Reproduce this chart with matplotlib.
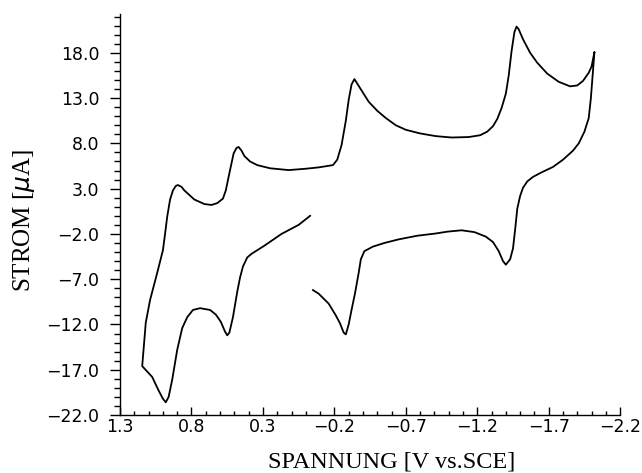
import matplotlib
matplotlib.use("Agg")
import matplotlib.pyplot as plt
from matplotlib.ticker import MultipleLocator, FuncFormatter

# cyclic voltammogram traced in sweep order (potential in V, current in uA)
potential = [
    -0.03, 0.05, 0.17, 0.29, 0.38, 0.41, 0.44, 0.46, 0.48, 0.51, 0.535, 0.55,
    0.565, 0.595, 0.63, 0.67, 0.74, 0.79, 0.83, 0.865, 0.90, 0.935, 0.96, 0.98,
    1.0, 1.03, 1.075, 1.145,
    1.13, 1.12, 1.09, 1.04, 1.0, 0.985, 0.97, 0.95, 0.93, 0.91, 0.895, 0.87,
    0.85, 0.78, 0.71, 0.66, 0.62, 0.58, 0.56, 0.535, 0.505, 0.485, 0.47, 0.45,
    0.43, 0.39, 0.34, 0.25, 0.12, 0.0, -0.09, -0.19, -0.22, -0.25, -0.28, -0.30,
    -0.32, -0.34, -0.36, -0.40, -0.44, -0.50, -0.56, -0.63, -0.70, -0.80, -0.91,
    -1.02, -1.14, -1.22, -1.27, -1.31, -1.34, -1.37, -1.40, -1.42, -1.44, -1.46,
    -1.475, -1.49, -1.52, -1.57, -1.62, -1.69, -1.77, -1.85, -1.90, -1.94, -1.98,
    -2.0, -2.02,
    -2.01, -1.995, -1.98, -1.95, -1.91, -1.87, -1.80, -1.73, -1.65, -1.59, -1.55,
    -1.52, -1.50, -1.48, -1.465, -1.45, -1.43, -1.40, -1.38, -1.35, -1.31, -1.26,
    -1.18, -1.09, -0.99, -0.91, -0.78, -0.65, -0.55, -0.47, -0.41, -0.385, -0.37,
    -0.345, -0.32, -0.30, -0.28, -0.265, -0.24, -0.21, -0.16, -0.09, -0.05,
]
current = [
    0.0, -1.0, -2.0, -3.3, -4.2, -4.6, -5.6, -6.8, -8.4, -11.2, -12.9, -13.2,
    -12.8, -11.7, -10.9, -10.4, -10.2, -10.4, -11.2, -12.4, -14.8, -18.1, -20.0, -20.6,
    -20.2, -19.3, -17.8, -16.6,
    -13.7, -11.8, -9.3, -6.3, -3.8, -2.0, -0.1, 1.8, 2.8, 3.3, 3.4, 3.2,
    2.8, 1.8, 1.3, 1.2, 1.4, 1.9, 2.8, 4.7, 6.9, 7.5, 7.6, 7.2,
    6.6, 6.0, 5.6, 5.25, 5.05, 5.2, 5.35, 5.6, 6.2, 7.8, 10.5, 12.8,
    14.5, 15.1, 14.6, 13.6, 12.6, 11.6, 10.8, 10.0, 9.5, 9.1, 8.8,
    8.65, 8.7, 8.9, 9.3, 9.9, 10.7, 11.9, 13.5, 15.5, 18.2, 20.3,
    20.9, 20.6, 19.5, 18.0, 16.9, 15.7, 14.8, 14.3, 14.4, 14.9, 15.8,
    16.5, 18.1,
    16.0, 13.0, 10.8, 9.3, 8.0, 7.2, 6.2, 5.4, 4.8, 4.3, 3.8,
    3.1, 2.2, 0.8, -1.5, -3.6, -4.8, -5.4, -5.0, -3.9, -2.9, -2.3,
    -1.8, -1.6, -1.75, -1.95, -2.2, -2.6, -3.0, -3.4, -3.9, -4.8, -6.3,
    -8.5, -10.4, -12.0, -13.1, -12.9, -11.9, -11.0, -9.7, -8.6, -8.2,
]

x_ticks = [1.3, 0.8, 0.3, -0.2, -0.7, -1.2, -1.7, -2.2]
y_ticks = [-22.0, -17.0, -12.0, -7.0, -2.0, 3.0, 8.0, 13.0, 18.0]


def fmt(v, pos):
    return f"{v:.1f}".replace("-", "\u2212")


fig = plt.figure(figsize=(6.42, 4.73), dpi=100)
ax = fig.add_axes([0.187, 0.1226, 0.779, 0.848])

ax.plot(potential, current, color="black", linewidth=1.3,
        solid_joinstyle="round")

ax.set_xlim(1.3, -2.2)
ax.set_ylim(-22.0, 22.3)
ax.set_xticks(x_ticks)
ax.set_yticks(y_ticks)
ax.xaxis.set_minor_locator(MultipleLocator(0.1))
ax.yaxis.set_minor_locator(MultipleLocator(1.0))
ax.xaxis.set_major_formatter(FuncFormatter(fmt))
ax.yaxis.set_major_formatter(FuncFormatter(fmt))

for side in ["top", "right"]:
    ax.spines[side].set_visible(False)
for side in ["left", "bottom"]:
    ax.spines[side].set_linewidth(1.0)

ax.tick_params(axis="x", which="major", direction="in", length=6, width=1.0,
               pad=2, labelsize=12.5)
ax.tick_params(axis="x", which="minor", direction="in", length=3, width=1.0)
ax.tick_params(axis="y", which="major", direction="out", length=7, width=1.0,
               pad=8, labelsize=12.5)
ax.tick_params(axis="y", which="minor", direction="out", length=4, width=1.0)

ax.set_xlabel("SPANNUNG [V vs.SCE]", family="Liberation Serif", fontsize=17.5)
ax.set_ylabel("STROM [$\\mu$A]", family="Liberation Serif", fontsize=18)
# the printed labels sit a little off-centre
ax.xaxis.set_label_coords(0.544, -0.092)
ax.yaxis.set_label_coords(-0.166, 0.486)

fig.savefig("out.png", dpi=100)
